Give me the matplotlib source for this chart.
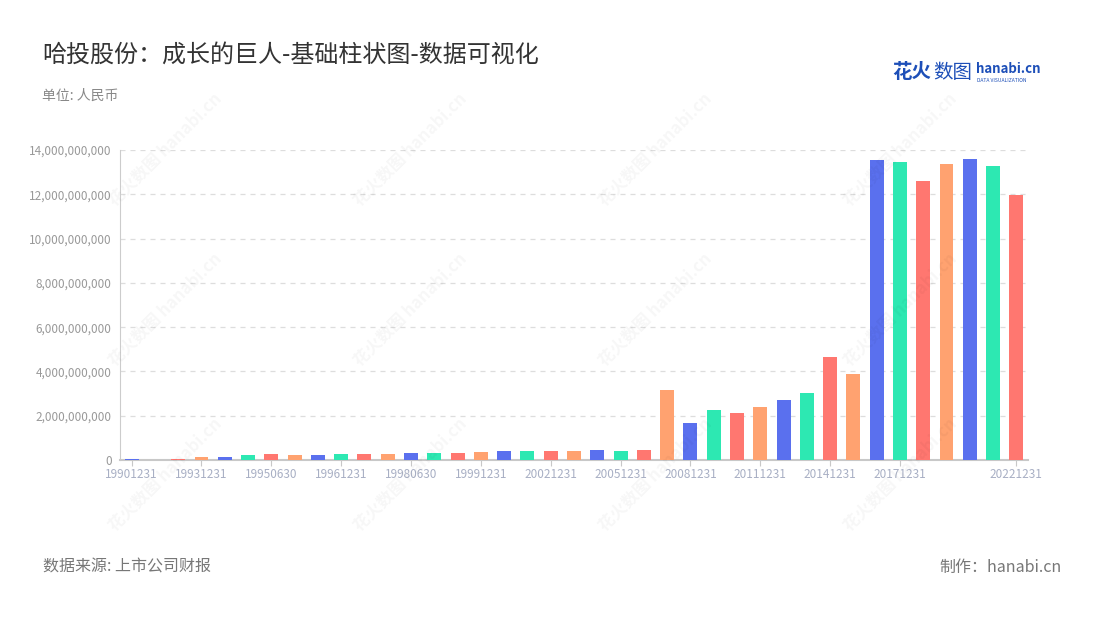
import matplotlib
matplotlib.use("Agg")
import matplotlib.pyplot as plt
from matplotlib.ticker import FuncFormatter, MultipleLocator

plt.rcParams['font.family'] = ['Noto Sans CJK SC', 'DejaVu Sans']

categories = [
    "19901231", "19911231", "19921231", "19931231", "19940630", "19941231",
    "19950630", "19951231", "19960630", "19961231", "19970630", "19971231",
    "19980630", "19981231", "19990630", "19991231", "20001231", "20011231",
    "20021231", "20031231", "20041231", "20051231", "20061231", "20071231",
    "20081231", "20091231", "20101231", "20111231", "20121231", "20131231",
    "20141231", "20151231", "20161231", "20171231", "20181231", "20191231",
    "20201231", "20211231", "20221231",
]
values = [
    0.05e9, 0.01e9, 0.05e9, 0.12e9, 0.14e9, 0.24e9,
    0.26e9, 0.24e9, 0.24e9, 0.26e9, 0.27e9, 0.29e9,
    0.30e9, 0.32e9, 0.32e9, 0.38e9, 0.41e9, 0.41e9,
    0.41e9, 0.41e9, 0.44e9, 0.42e9, 0.43e9, 3.15e9,
    1.66e9, 2.26e9, 2.11e9, 2.39e9, 2.69e9, 3.03e9,
    4.67e9, 3.87e9, 13.56e9, 13.46e9, 12.58e9, 13.35e9,
    13.58e9, 13.28e9, 11.95e9,
]
palette = ["#5A70EE", "#2DE8B2", "#FF7770", "#FFA270"]
shown_labels = [0, 3, 6, 9, 12, 15, 18, 21, 24, 27, 30, 33, 38]

W, H = 1100, 620
fig = plt.figure(figsize=(W / 100, H / 100), dpi=100)
ax = fig.add_axes([120 / W, 1 - 460 / H, (1028 - 120) / W, (460 - 150) / H])

# watermarks
for wx in (165, 410, 655, 900):
    for wy in (150, 310, 475):
        fig.text(wx / W, 1 - wy / H, "花火数图 hanabi.cn", rotation=45,
                 fontsize=12, color="#000000", alpha=0.035, ha="center",
                 va="center", fontweight="bold", zorder=0)

x = list(range(len(categories)))
colors = [palette[i % 4] for i in x]
ax.bar(x, values, width=0.6, color=colors, zorder=3)

ax.set_xlim(-0.5, len(categories) - 0.5)
ax.set_ylim(0, 14e9)
ax.yaxis.set_major_locator(MultipleLocator(2e9))
ax.yaxis.set_major_formatter(FuncFormatter(lambda v, p: f"{int(v):,}"))
ax.grid(axis="y", linestyle=(0, (4, 4)), color="#dddddd", linewidth=0.9, zorder=0)
ax.set_xticks([x[i] for i in shown_labels])
ax.set_xticklabels([categories[i] for i in shown_labels])

for s in ("top", "right"):
    ax.spines[s].set_visible(False)
ax.spines["left"].set_color("#cccccc")
ax.spines["bottom"].set_color("#c8c8c8")
ax.spines["bottom"].set_linewidth(1.5)
ax.tick_params(axis="y", length=0, labelsize=8.5, labelcolor="#999999", pad=6)
ax.tick_params(axis="x", length=4, color="#c8c8c8", labelsize=8.5,
               labelcolor="#a8afc4", pad=2)

fig.text(42 / W, 1 - 55 / H, "哈投股份：成长的巨人-基础柱状图-数据可视化",
         fontsize=17.3, color="#333333", va="center", ha="left")
fig.text(42 / W, 1 - 96 / H, "单位: 人民币", fontsize=10, color="#888888",
         va="center", ha="left")
fig.text(43 / W, 1 - 567 / H, "数据来源: 上市公司财报", fontsize=11.5,
         color="#777777", va="center", ha="left")
fig.text(1062 / W, 1 - 567 / H, "制作：hanabi.cn", fontsize=11.5,
         color="#777777", va="center", ha="right")

# logo
fig.text(892 / W, 1 - 72 / H, "花火", fontsize=14, color="#1d4fb8",
         fontweight="bold", va="center", ha="left")
fig.text(933 / W, 1 - 72 / H, "数图", fontsize=14, color="#1d4fb8",
         va="center", ha="left")
fig.text(976 / W, 1 - 69 / H, "hanabi.cn", fontsize=9.5, color="#1d4fb8",
         fontweight="bold", va="center", ha="left")
fig.text(977 / W, 1 - 80 / H, "DATA VISUALIZATION", fontsize=3.6,
         color="#1d4fb8", va="center", ha="left")

fig.savefig("out.png", dpi=100, facecolor="white")
